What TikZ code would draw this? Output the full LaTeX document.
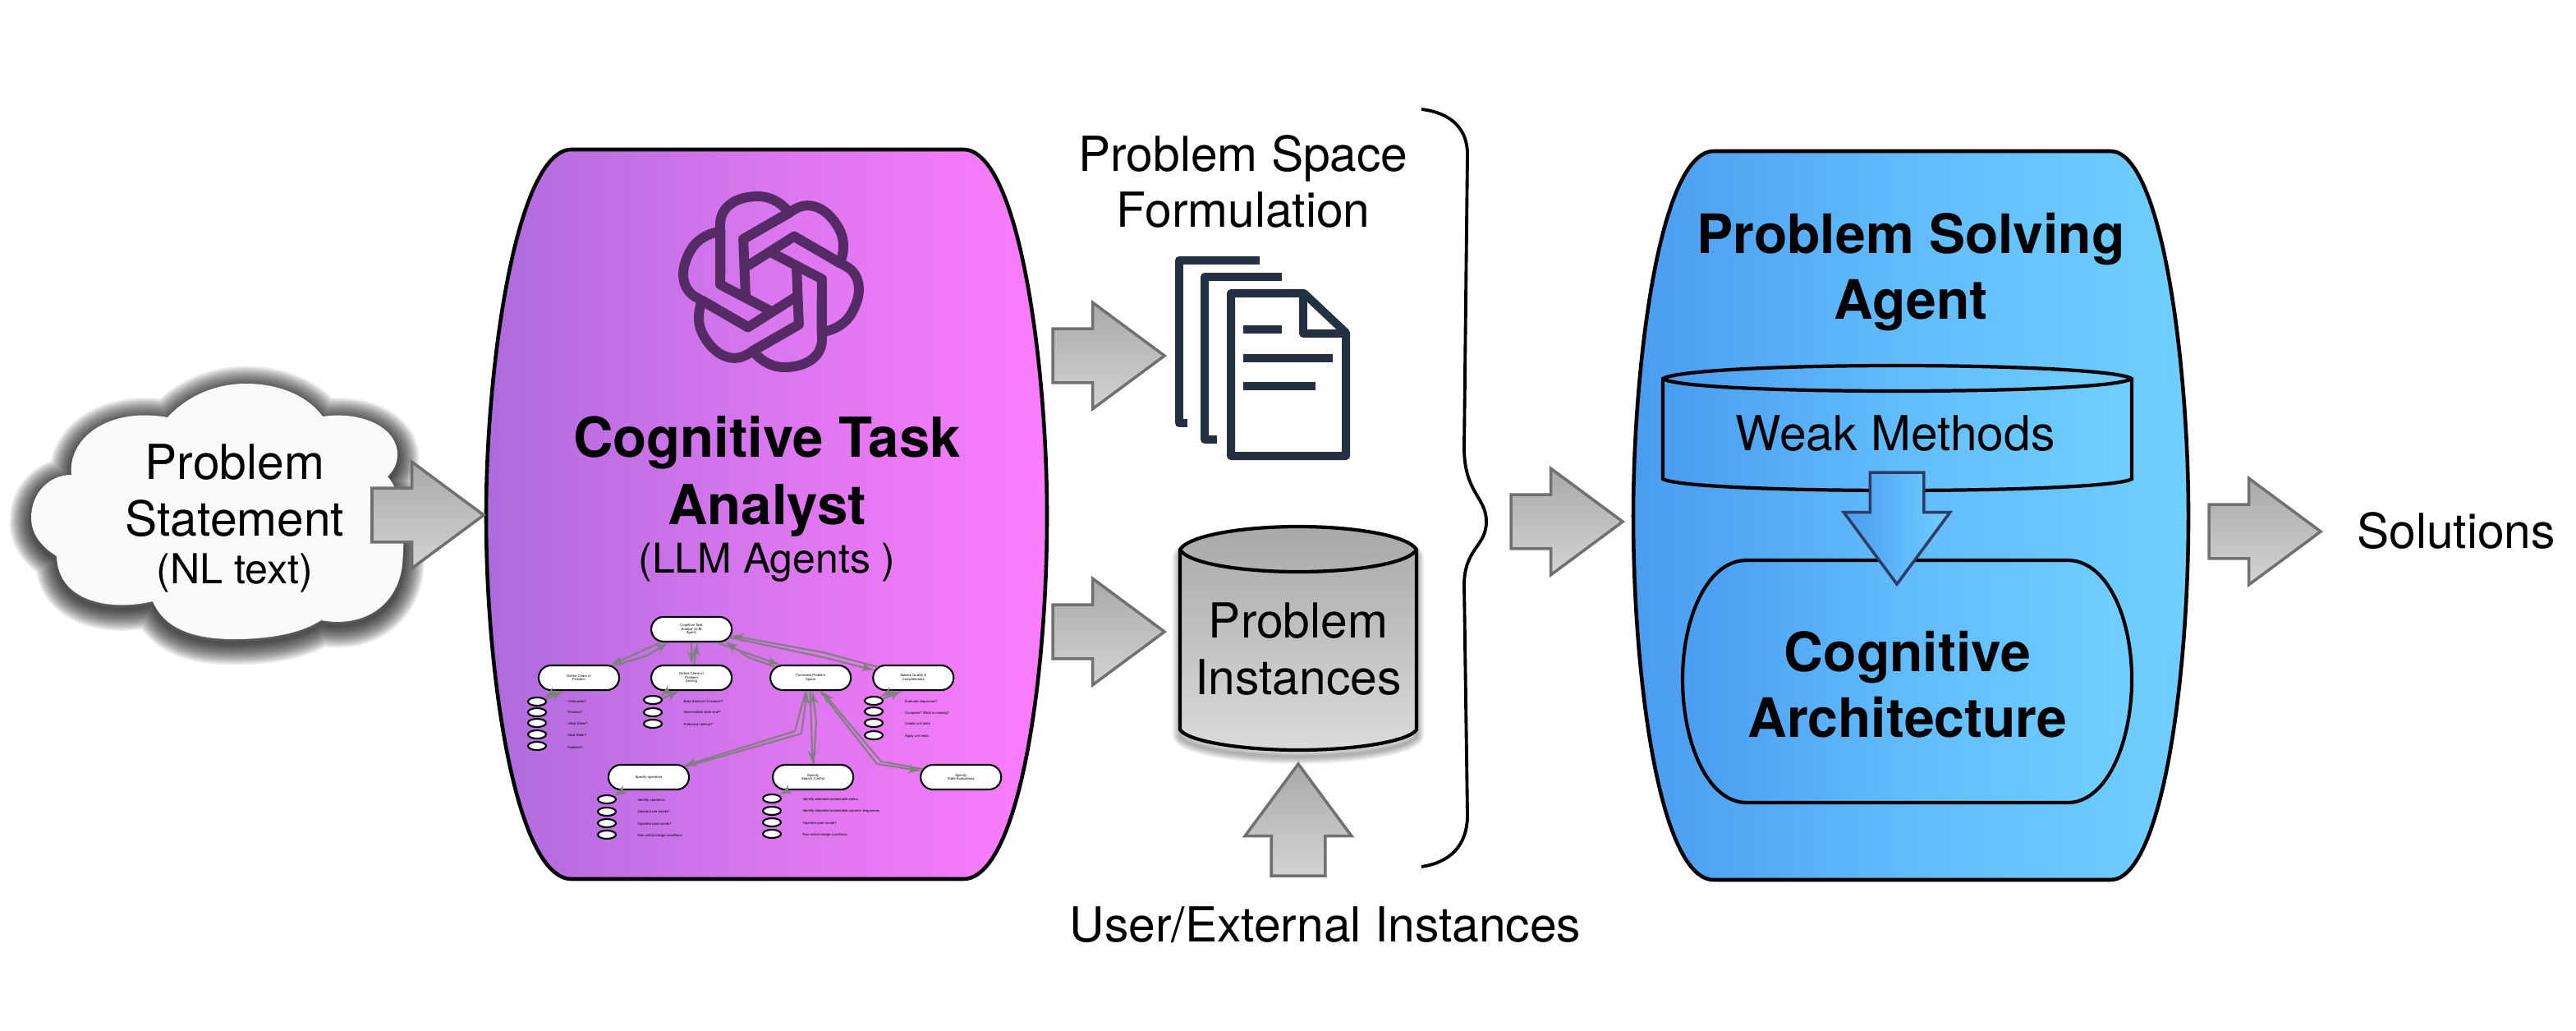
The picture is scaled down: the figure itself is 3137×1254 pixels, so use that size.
\documentclass[tikz,border=0pt]{standalone}
\usepackage{fontspec}
\setmainfont{TeX Gyre Heros}
\usepackage{tikz}
\usetikzlibrary{shapes,arrows,shapes.misc,shapes.arrows}
\usetikzlibrary{positioning}
\definecolor{arrowgray}{HTML}{707070}
\definecolor{docnavy}{HTML}{233142}
\definecolor{logopurple}{HTML}{552B66}
\definecolor{treegray}{HTML}{808080}
\definecolor{arrownavy}{HTML}{2F3B63}
\definecolor{magL}{HTML}{AD6BDC}
\definecolor{magM}{HTML}{DA76EE}
\definecolor{magR}{HTML}{FB7DFB}
\definecolor{bluL}{HTML}{4A9CF0}
\definecolor{bluM}{HTML}{62BCFB}
\definecolor{bluR}{HTML}{70CFFF}
\tikzstyle{bigtext} = [font=\fontsize{16.7}{19.4}\selectfont, align=center, inner sep=0pt]
\tikzstyle{boldtext} = [font=\fontsize{18.8}{22.9}\selectfont\bfseries, align=center, inner sep=0pt]
\tikzstyle{bigarrow} = [single arrow, draw=arrowgray, line width=1pt, top color=black!34, bottom color=black!17, inner xsep=0pt, inner ysep=0.31cm, outer sep=0pt, minimum height=1.36cm, single arrow head extend=0.32cm, single arrow tip angle=73, single arrow head indent=0pt, anchor=tail]
\tikzstyle{panel} = [draw, line width=1.3pt]
\tikzstyle{pinkpanel} = [panel, left color=magL, right color=magR, middle color=magM]
\tikzstyle{bluepanel} = [panel, left color=bluL, right color=bluR, middle color=bluM]
\tikzstyle{treebox} = [draw, fill=white, rounded rectangle, line width=0.6pt, minimum width=0.98cm, minimum height=0.3cm, inner sep=0pt, font=\fontsize{1.2}{1.3}\selectfont, align=center]
\tikzstyle{bullet} = [draw, fill=white, ellipse, line width=0.6pt, minimum width=0.22cm, minimum height=0.1cm, inner sep=0pt]
\tikzstyle{item} = [anchor=west, inner sep=0pt, font=\fontsize{1.2}{1.3}\selectfont]
\tikzstyle{treeline} = [treegray, line width=0.6pt]
\tikzstyle{docline} = [docnavy, line width=2.85pt, line join=round]
\def\cloudpath{(204,508) .. controls (228,482) and (262,467) .. (300,467) .. controls (340,467) and (375,482) .. (393,507) .. controls (440,500) and (484,520) .. (484,553) .. controls (484,565) and (479,573) .. (472,580) .. controls (490,600) and (494,640) .. (490,687) .. controls (485,735) and (445,765) .. (391,755) .. controls (365,772) and (325,778) .. (285,778) .. controls (235,778) and (200,765) .. (186,732) .. controls (130,745) and (70,730) .. (69,677) .. controls (50,665) and (38,650) .. (38,630) .. controls (38,600) and (60,578) .. (87,578) .. controls (82,535) and (130,495) .. (204,508) -- cycle}
\def\tankpath{(1437,669) -- (1437,888) .. controls (1445,902) and (1510,913) .. (1581,913) .. controls (1652,913) and (1717,902) .. (1725,888) -- (1725,669) .. controls (1715,652) and (1650,641) .. (1581,641) .. controls (1512,641) and (1447,652) .. (1437,669) -- cycle}

\begin{document}
\begin{tikzpicture}[x=0.01cm, y=-0.01cm, >=latex']
    \useasboundingbox (0,0) rectangle (3137,1254);

    % Soft shadows
    \foreach \w in {15,14,...,1}
        \draw [black, opacity=0.075, line width=\w pt, line join=round, yshift=-0.05cm] \cloudpath;
    \foreach \w in {5,4,...,1}
        \draw [black, opacity=0.07, line width=\w pt, line join=round, yshift=-0.08cm] \tankpath;

    % Placing the big shapes
    \fill [black!2] \cloudpath;
    \path [pinkpanel] (696,182) -- (1173,182) .. controls (1240,182) and (1275,440) .. (1275,628) .. controls (1275,830) and (1240,1070) .. (1173,1070) -- (696,1070) .. controls (630,1070) and (592,830) .. (592,628) .. controls (592,440) and (630,182) .. (696,182) -- cycle;
    \path [bluepanel] (2087,184) -- (2570,184) .. controls (2632,184) and (2665,440) .. (2665,628) .. controls (2665,830) and (2632,1071) .. (2570,1071) -- (2087,1071) .. controls (2022,1071) and (1989,830) .. (1989,628) .. controls (1989,440) and (2022,184) .. (2087,184) -- cycle;
    \path [bluepanel, line width=1.2pt] (2025,461) -- (2025,583) .. controls (2040,592) and (2170,597) .. (2310,597) .. controls (2450,597) and (2581,592) .. (2596,583) -- (2596,461) .. controls (2581,451) and (2450,445) .. (2310,445) .. controls (2170,445) and (2040,451) .. (2025,461) -- cycle;
    \draw [line width=1.2pt] (2025,461) .. controls (2040,471) and (2170,476) .. (2310,476) .. controls (2450,476) and (2581,471) .. (2596,461);
    \path [bluepanel, line width=1.2pt] (2127,682) -- (2518,682) .. controls (2565,682) and (2596,750) .. (2596,827) .. controls (2596,905) and (2565,977) .. (2518,977) -- (2127,977) .. controls (2080,977) and (2049,905) .. (2049,827) .. controls (2049,750) and (2080,682) .. (2127,682) -- cycle;
    \path [draw, line width=1.2pt, top color=black!34, bottom color=black!14] \tankpath;
    \draw [line width=1.2pt] (1437,669) .. controls (1447,686) and (1512,696) .. (1581,696) .. controls (1650,696) and (1715,686) .. (1725,669);

    % Brace
    \draw [line width=1.1pt] (1731,133) .. controls (1765,137) and (1787,155) .. (1787,188) -- (1783,545) .. controls (1783,600) and (1810,605) .. (1810,635) .. controls (1810,665) and (1783,668) .. (1783,712) -- (1787,992) .. controls (1787,1030) and (1765,1050) .. (1731,1055);

    % Logo
    \foreach \k in {0,60,...,300} {
        \begin{scope}[shift={(939,343)}, rotate=\k]
            \draw [logopurple, line width=3.4pt, line join=round] (-33.5,-52) -- (22.3,-84) .. controls (10.7,-98.3) and (-2.7,-104) .. (-16,-104) .. controls (-44.3,-104) and (-62,-90) .. (-62,-70) -- (-62,3.3) -- (1.7,36.7);
        \end{scope}
    }

    % Documents
    \draw [docline] (1534,317) -- (1436,317) -- (1436,515) -- (1446,515);
    \draw [docline] (1561,337) -- (1467,337) -- (1467,535) -- (1482,535);
    \draw [docline] (1588,357) -- (1499,357) -- (1499,555) -- (1639,555) -- (1639,405) -- cycle;
    \draw [docline] (1587,357) -- (1587,406) -- (1639,406);
    \draw [docline] (1514,401) -- (1561,401);
    \draw [docline] (1514,436) -- (1623,436);
    \draw [docline] (1514,470) -- (1602,470);

    % Placing the labels
    \node [bigtext] (statement) at (286,631) {Problem\\Statement\\[-2.85pt]{\fontsize{14.3}{16}\selectfont (NL text)}};
    \node [boldtext, font=\fontsize{19.1}{23.3}\selectfont\bfseries] (analyst) at (934,607) {Cognitive Task\\Analyst\\[-6.5pt]{\fontsize{14.2}{16}\mdseries\selectfont (LLM Agents )}};
    \node [bigtext] (formulation) at (1514,221) {Problem Space\\Formulation};
    \node [bigtext] (instances) at (1581,790) {Problem\\Instances};
    \node [bigtext] (external) at (1614,1126) {User/External Instances};
    \node [boldtext] (solver) at (2327,331) {Problem Solving\\Agent};
    \node [bigtext] (weak) at (2308,528) {Weak Methods};
    \node [boldtext] (architecture) at (2323,833) {Cognitive\\Architecture};
    \node [bigtext] (solutions) at (2991,646) {Solutions};

    % Placing the arrows
    \node [bigarrow] (toanalyst) at (453,627) {};
    \node [bigarrow] (todocs) at (1282,433) {};
    \node [bigarrow] (totank) at (1282,769) {};
    \node [bigarrow, rotate=90] (fromuser) at (1581,1066) {};
    \node [bigarrow] (tosolver) at (1840,635) {};
    \node [bigarrow] (tosolutions) at (2690,647) {};
    \node [bigarrow, draw=arrownavy, left color=bluL, right color=bluR, rotate=-90] (toarch) at (2310,575) {};

    % Placing the small tree
    \node [treebox] (charsprob) at (705,825) {Define Chars of\\Problem};
    \node [treebox, node distance=1.37cm, right of=charsprob] (charssolve) {Define Chars of\\Problem\\Solving};
    \node [treebox, node distance=1.45cm, right of=charssolve] (formulate) {Formulate Problem\\Space};
    \node [treebox, node distance=1.25cm, right of=formulate] (assess) {Assess Quality \&\\Completeness};
    \node [treebox, node distance=0.59cm, above of=charssolve] (ctaroot) {Cognitive Task\\Analyst (LLM\\Agent)};
    \node [treebox] (operators) at (790,946) {Specify operators};
    \node [treebox, node distance=2cm, right of=operators] (searchctl) {Specify\\Search Control};
    \node [treebox, node distance=1.8cm, right of=searchctl] (stateeval) {Specify\\State Evaluations};

    \foreach \by/\ly/\txt [count=\i] in {854/854/Unknowns?, 867/867/Knowns?, 880/881/Initial State?, 894/895/Goal State?, 908/910/Notation?} {
        \node [bullet] (pb\i) at (654,\by) {};
        \node [item] (pt\i) at (691,\ly) {\txt};
    }
    \foreach \by/\ly/\txt [count=\i] in {852/854/Best direction for search?, 867/867/Intermediate state eval?, 881/882/Preferred method?} {
        \node [bullet] (sb\i) at (795,\by) {};
        \node [item] (st\i) at (832,\ly) {\txt};
    }
    \foreach \by/\ly/\txt [count=\i] in {853/854/Evaluate responses?, 866/868/Complete? What is missing?, 880/881/Create unit tests, 895/896/Apply unit tests} {
        \node [bullet] (ab\i) at (1064,\by) {};
        \node [item] (at\i) at (1101.5,\ly) {\txt};
    }
    \foreach \by/\ly/\txt [count=\i] in {973/974/Identify operators, 988/988/Operator pre-conds?, 1002/1003/Operator post-conds?, 1016/1017/{Non-uniform/edge conditions}} {
        \node [bullet] (ob\i) at (739,\by) {};
        \node [item] (ot\i) at (776,\ly) {\txt};
    }
    \foreach \by/\ly/\txt [count=\i] in {972/973/{Identify desirable/undesirable states}, 987/987/{Identify desirable/undesirable operator sequences}, 1001/1002/Operator post-conds?, 1015/1016/{Non-uniform/edge conditions}} {
        \node [bullet] (cb\i) at (940,\by) {};
        \node [item] (ct\i) at (977,\ly) {\txt};
    }

    % Connecting the nodes
    \draw [treeline, ->] (ctaroot.-157) -- (charsprob.22);
    \draw [treeline, ->] (charsprob.19) -- (788,798) -- (ctaroot.-150);
    \draw [treeline, ->] (ctaroot.-90) -- (charssolve.90);
    \draw [treeline, ->] (charssolve.80) -- (ctaroot.-65);
    \draw [treeline, ->] (ctaroot.-28) -- (formulate.157);
    \draw [treeline, ->] (formulate.163) -- (911,800) -- (ctaroot.-20);
    \draw [treeline, ->] (ctaroot.-12) -- (1002,800) -- (assess.169);
    \draw [treeline, ->] (assess.163) -- (1002,794) -- (ctaroot.-9);
    \draw [treeline, ->] (charsprob.-151) -- (pb1.30);
    \draw [treeline, ->] (pb1.15) -- (charsprob.-138);
    \draw [treeline, ->] (charssolve.-151) -- (sb1.27);
    \draw [treeline, ->] (sb1.10) -- (charssolve.-131);
    \draw [treeline, ->] (assess.-148) -- (ab1.32);
    \draw [treeline, ->] (ab1.12) -- (assess.-129);
    \draw [treeline, ->] (operators.-152) -- (ob1.27);
    \draw [treeline, ->] (searchctl.-152) -- (cb1.29);
    \draw [treeline, ->] (formulate.-110) -- (968,890) -- (operators.18);
    \draw [treeline, ->] (operators.16) -- (976,893) -- (formulate.-105);
    \draw [treeline, ->] (formulate.-92) -- (searchctl.92);
    \draw [treeline, ->] (searchctl.88) -- (994,879) -- (formulate.-82);
    \draw [treeline, ->] (formulate.-55) -- (1068,930) -- (stateeval.171);
    \draw [treeline, ->] (stateeval.168) -- (1073,927) -- (formulate.-50);
\end{tikzpicture}
\end{document}
